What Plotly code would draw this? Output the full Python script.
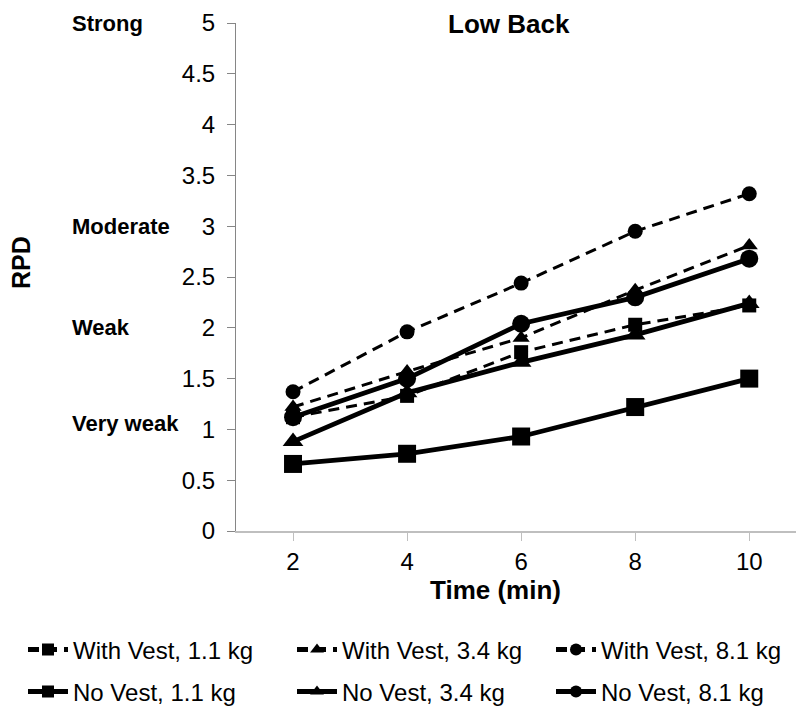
import plotly.graph_objects as go

# ---- data ----
time_min = [2, 4, 6, 8, 10]
with_vest_1_1 = [1.12, 1.33, 1.76, 2.03, 2.22]
with_vest_3_4 = [1.22, 1.57, 1.90, 2.37, 2.81]
with_vest_8_1 = [1.37, 1.96, 2.44, 2.95, 3.32]
no_vest_1_1 = [0.66, 0.76, 0.93, 1.22, 1.50]
no_vest_3_4 = [0.88, 1.36, 1.66, 1.93, 2.24]
no_vest_8_1 = [1.12, 1.50, 2.04, 2.30, 2.68]

series_names = ["With Vest, 1.1 kg", "With Vest, 3.4 kg", "With Vest, 8.1 kg",
                "No Vest, 1.1 kg", "No Vest, 3.4 kg", "No Vest, 8.1 kg"]
y_tick_vals = [0, 0.5, 1, 1.5, 2, 2.5, 3, 3.5, 4, 4.5, 5]
y_tick_text = ["0", "0.5", "1", "1.5", "2", "2.5", "3", "3.5", "4", "4.5", "5"]
level_labels = ["Strong", "Moderate", "Weak", "Very weak"]
level_values = [5, 3, 2, 1.06]

FONT = "Liberation Sans, Arial, sans-serif"

# page has an 8px body margin; figure sized to fit the 804x717 window
W, H = 796, 709
ML, MT, MB, MR = 228, 15, 186, 0
PW = W - ML - MR
PH = H - MT - MB


def sx(x):  # screen x -> paper x
    return (x - 8 - ML) / PW


def sy(y):  # screen y -> paper y
    return (MT + PH - (y - 8)) / PH


series_values = [with_vest_1_1, with_vest_3_4, with_vest_8_1,
                 no_vest_1_1, no_vest_3_4, no_vest_8_1]
symbols = ["square", "triangle-up", "circle", "square", "triangle-up", "circle"]
dashed = [True, True, True, False, False, False]
msizes = [14, 15, 15, 18, 18, 18]

fig = go.Figure()
legend_ids = ["legend", "legend2", "legend3", "legend4", "legend5", "legend6"]
for i in range(6):
    fig.add_trace(go.Scatter(
        x=time_min, y=series_values[i], name=series_names[i],
        mode="lines+markers",
        line=dict(color="black", width=3 if dashed[i] else 4.8,
                  dash="11px,7px" if dashed[i] else "solid"),
        marker=dict(symbol=symbols[i], size=msizes[i], color="black"),
        legend=legend_ids[i],
    ))

# legend positions (figure px)
legend_px = [(15, 642), (284, 642), (543, 642), (15, 684), (284, 684), (543, 684)]
legend_layout = {}
for lid, (px, py) in zip(legend_ids, legend_px):
    legend_layout[lid] = dict(
        xref="container", yref="container",
        x=px / W, y=1 - py / H, xanchor="left", yanchor="middle",
        orientation="h", bgcolor="rgba(0,0,0,0)",
        font=dict(family=FONT, size=24, color="black"),
        itemsizing="constant", itemwidth=40,
    )

fig.update_layout(
    width=W, height=H,
    margin=dict(l=ML, r=MR, t=MT, b=MB),
    plot_bgcolor="white", paper_bgcolor="white",
    font=dict(family=FONT, size=24, color="black"),
    showlegend=True,
    xaxis=dict(range=[1, 10.96], tickvals=time_min, ticks="outside", ticklen=8,
               tickcolor="#bfbfbf", tickwidth=1, showline=True, linecolor="#bfbfbf",
               linewidth=2, showgrid=False, zeroline=False,
               tickfont=dict(family=FONT, size=24, color="black")),
    yaxis=dict(range=[0, 5], tickvals=y_tick_vals, ticktext=y_tick_text,
               ticks="outside", ticklen=8, tickcolor="#868686", showline=True,
               linecolor="#868686", linewidth=1, showgrid=False, zeroline=False,
               ticklabelstandoff=7,
               tickfont=dict(family=FONT, size=24, color="black")),
    **legend_layout,
)

annotations = [
    dict(text="<b>Low Back</b>", xref="paper", yref="paper", x=sx(509), y=sy(24),
         xanchor="center", yanchor="middle", showarrow=False,
         font=dict(family=FONT, size=26, color="black")),
    dict(text="<b>Time (min)</b>", xref="paper", yref="paper", x=sx(495), y=sy(590),
         xanchor="center", yanchor="middle", showarrow=False,
         font=dict(family=FONT, size=26, color="black")),
    dict(text="<b>RPD</b>", xref="paper", yref="paper", x=sx(21), y=sy(263),
         xanchor="center", yanchor="middle", showarrow=False,
         textangle=-90, font=dict(family=FONT, size=25, color="black")),
]
for lab, val in zip(level_labels, level_values):
    annotations.append(dict(text="<b>" + lab + "</b>", xref="paper", yref="y",
                            x=sx(70), y=val, xanchor="left", yanchor="middle",
                            showarrow=False, font=dict(family=FONT, size=22, color="black")))
fig.update_layout(annotations=annotations)

fig.write_html("out.html")
